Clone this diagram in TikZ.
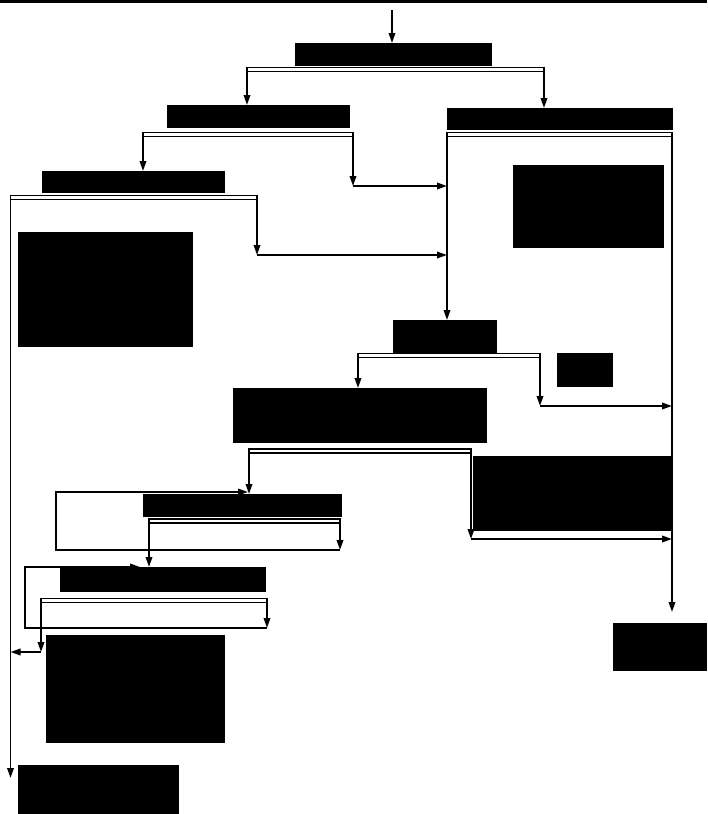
\documentclass[tikz,border=0pt]{standalone}
\usetikzlibrary{arrows,positioning}
\usetikzlibrary{arrows.meta}
\usetikzlibrary{calc}

\tikzset{
  blk/.style={fill=black, draw=none, inner sep=0pt, outer sep=0pt, anchor=north west},
  arr/.style={line width=1.8pt, -{Triangle[length=10pt,width=6.5pt]}},
  bar/.style={line width=1.7pt, double, double distance=2.2pt},
}

\begin{document}
\begin{tikzpicture}[x=1pt,y=-1pt]
		\useasboundingbox (0,0) rectangle (707,814);
		
		%Top rule
		\draw [line width=3pt] (0,1.5) -- (707,1.5);
		
		%Bar ends
		\coordinate (barA-l) at (247,69.5);  \coordinate (barA-r) at (544,69.5);
		\coordinate (barB-l) at (143,134.5); \coordinate (barB-r) at (353,134.5);
		\coordinate (barC-l) at (447,134.5); \coordinate (barC-r) at (672,134.5);
		\coordinate (barD-l) at (10.5,197.5); \coordinate (barD-r) at (257,197.5);
		\coordinate (barE-l) at (358,355.5); \coordinate (barE-r) at (540,355.5);
		\coordinate (barF-l) at (249,451);   \coordinate (barF-r) at (471,451);
		\coordinate (barG-l) at (149,521);   \coordinate (barG-r) at (340,521);
		\coordinate (barH-l) at (41,600.5);  \coordinate (barH-r) at (267,600.5);
		
		%Free ends and bends
		\coordinate (start) at (392,10);
		\coordinate (jB) at (353,186);
		\coordinate (jD) at (257,255);
		\coordinate (jE) at (540,406);
		\coordinate (jF) at (471,539);
		\coordinate (jG) at (340,550);
		\coordinate (loopG) at (56,550);
		\coordinate (backG) at (248,492);
		\coordinate (jH) at (41,652);
		\coordinate (jH2) at (267,628);
		\coordinate (loopH) at (25,628);
		\coordinate (backH) at (140,567);
		\coordinate (endK) at (10.5,778);
		\coordinate (endJ) at (672,612);
		
		%Double bars
		\draw [bar] (barA-l) -- (barA-r);
		\draw [bar] (barB-l) -- (barB-r);
		\draw [bar] (barC-l) -- (barC-r);
		\draw [bar] (barD-l) -- (barD-r);
		\draw [bar] (barE-l) -- (barE-r);
		\draw [bar] (barF-l) -- (barF-r);
		\draw [bar] (barG-l) -- (barG-r);
		\draw [bar] (barH-l) -- (barH-r);
		
		%Loops back (under the boxes)
		\draw [arr] (jG) -- (loopG) |- (backG);
		\draw [arr] (jH2) -- (loopH) |- (backH);
		
		%Boxes
		\node [blk, minimum width=197pt, minimum height=23pt] (boxA) at (295,43) {};
		\node [blk, minimum width=183pt, minimum height=23pt] (boxB) at (167,105) {};
		\node [blk, minimum width=226pt, minimum height=22pt] (boxC) at (447,108) {};
		\node [blk, minimum width=151pt, minimum height=83pt] (boxC1) at (513,165) {};
		\node [blk, minimum width=183pt, minimum height=22pt] (boxD) at (42,171) {};
		\node [blk, minimum width=175pt, minimum height=115pt] (boxD1) at (18,232) {};
		\node [blk, minimum width=104pt, minimum height=33pt] (boxE) at (393,320) {};
		\node [blk, minimum width=56pt, minimum height=34pt] (boxE1) at (557,353) {};
		\node [blk, minimum width=254pt, minimum height=55pt] (boxF) at (233,388) {};
		\node [blk, minimum width=198pt, minimum height=75pt] (boxF1) at (473,456) {};
		\node [blk, minimum width=199pt, minimum height=23pt] (boxG) at (143,494) {};
		\node [blk, minimum width=206pt, minimum height=25pt] (boxH) at (60,567) {};
		\node [blk, minimum width=179pt, minimum height=108pt] (boxH1) at (46,635) {};
		\node [blk, minimum width=94pt, minimum height=48pt] (boxJ) at (613,623) {};
		\node [blk, minimum width=161pt, minimum height=49pt] (boxK) at (18,765) {};
		
		%Connectors
		\draw [arr] (start) -- (start |- boxA.north);
		\draw [arr] ([yshift=2.8pt]barA-l) -- (barA-l |- boxB.north);
		\draw [arr] ([yshift=2.8pt]barA-r) -- (barA-r |- boxC.north);
		\draw [arr] ([yshift=2.8pt]barB-l) -- (barB-l |- boxD.north);
		\draw [arr] ([yshift=2.8pt]barB-r) -- (jB);
		\draw [arr] (jB) -- (jB -| barC-l);
		\draw [arr] ([yshift=2.8pt]barD-l) -- (endK);
		\draw [arr] ([yshift=2.8pt]barD-r) -- (jD);
		\draw [arr] (jD) -- (jD -| barC-l);
		\draw [arr] ([yshift=2.8pt]barC-l) -- (barC-l |- boxE.north);
		\draw [arr] ([yshift=2.8pt]barC-r) -- (endJ);
		\draw [arr] ([yshift=2.8pt]barE-l) -- (barE-l |- boxF.north);
		\draw [arr] ([yshift=2.8pt]barE-r) -- (jE);
		\draw [arr] (jE) -- (jE -| barC-r);
		\draw [arr] ([yshift=2.8pt]barF-l) -- (barF-l |- boxG.north);
		\draw [arr] ([yshift=2.8pt]barF-r) -- (jF);
		\draw [arr] (jF) -- (jF -| barC-r);
		\draw [arr] ([yshift=2.8pt]barG-l) -- (barG-l |- boxH.north);
		\draw [arr] ([yshift=2.8pt]barG-r) -- (jG);
		\draw [arr] ([yshift=2.8pt]barH-l) -- (jH);
		\draw [arr] (jH) -- (jH -| endK);
		\draw [arr] ([yshift=2.8pt]barH-r) -- (jH2);
		
\end{tikzpicture}
\end{document}
